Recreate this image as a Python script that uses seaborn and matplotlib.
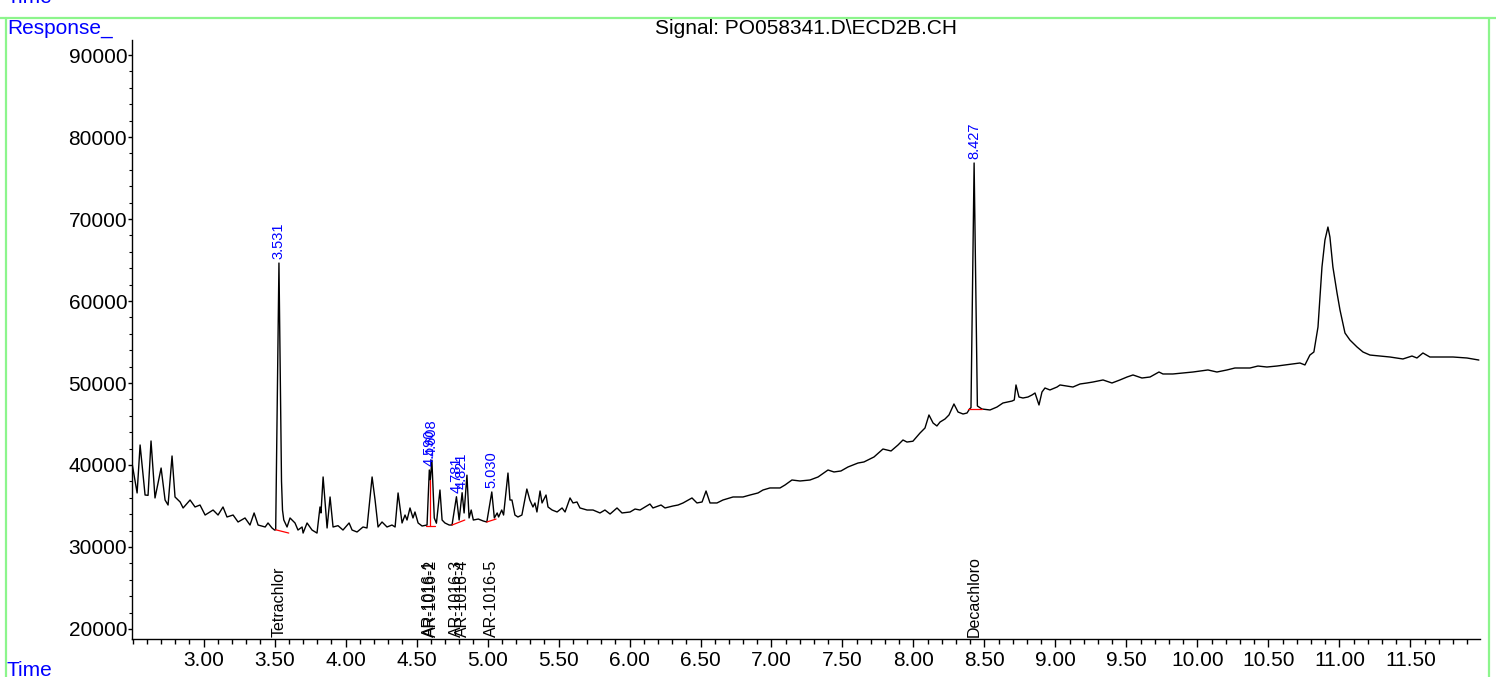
import numpy as np
import pandas as pd
import matplotlib
matplotlib.use("Agg")
import matplotlib.pyplot as plt
import seaborn as sns
from matplotlib.ticker import MultipleLocator, FuncFormatter
from matplotlib.lines import Line2D
import matplotlib.transforms as mtransforms

# %% Data
retention_time = [
    2.496, 2.532, 2.553, 2.588, 2.609, 2.630, 2.658, 2.701, 2.729, 2.750,
    2.778, 2.799, 2.835, 2.856, 2.905, 2.940, 2.975, 3.011, 3.067, 3.102,
    3.137, 3.165, 3.208, 3.243, 3.292, 3.327, 3.356, 3.384, 3.434, 3.454,
    3.482, 3.500, 3.508, 3.531, 3.549, 3.556, 3.565, 3.588, 3.609, 3.644,
    3.665, 3.694, 3.701, 3.729, 3.764, 3.799, 3.820, 3.827, 3.842, 3.870,
    3.891, 3.912, 3.947, 3.982, 4.025, 4.046, 4.081, 4.123, 4.151, 4.187,
    4.208, 4.229, 4.257, 4.292, 4.327, 4.349, 4.370, 4.398, 4.419, 4.433,
    4.454, 4.475, 4.489, 4.511, 4.539, 4.574, 4.590, 4.597, 4.608, 4.625,
    4.640, 4.665, 4.680, 4.700, 4.730, 4.750, 4.781, 4.800, 4.821, 4.835,
    4.855, 4.870, 4.885, 4.900, 4.935, 4.970, 4.995, 5.030, 5.048, 5.068,
    5.078, 5.100, 5.113, 5.144, 5.158, 5.172, 5.193, 5.214, 5.242, 5.277,
    5.298, 5.320, 5.334, 5.348, 5.370, 5.384, 5.412, 5.426, 5.455, 5.490,
    5.525, 5.546, 5.581, 5.602, 5.630, 5.651, 5.701, 5.743, 5.792, 5.827,
    5.863, 5.912, 5.947, 6.004, 6.039, 6.074, 6.144, 6.165, 6.222, 6.250,
    6.306, 6.342, 6.377, 6.440, 6.475, 6.511, 6.539, 6.567, 6.616, 6.658,
    6.729, 6.799, 6.849, 6.905, 6.940, 6.989, 7.060, 7.095, 7.144, 7.201,
    7.271, 7.328, 7.398, 7.440, 7.489, 7.539, 7.609, 7.651, 7.722, 7.785,
    7.842, 7.891, 7.926, 7.954, 7.996, 8.046, 8.081, 8.109, 8.138, 8.165,
    8.187, 8.222, 8.250, 8.285, 8.314, 8.349, 8.377, 8.395, 8.405, 8.427,
    8.450, 8.482, 8.539, 8.588, 8.630, 8.694, 8.710, 8.722, 8.743, 8.771,
    8.806, 8.835, 8.856, 8.884, 8.905, 8.926, 8.961, 9.011, 9.032, 9.081,
    9.123, 9.173, 9.222, 9.264, 9.335, 9.398, 9.454, 9.504, 9.546, 9.609,
    9.666, 9.729, 9.757, 9.827, 9.898, 9.968, 10.018, 10.074, 10.137, 10.208,
    10.264, 10.320, 10.370, 10.426, 10.489, 10.560, 10.616, 10.673, 10.722, 10.757,
    10.792, 10.820, 10.849, 10.877, 10.898, 10.919, 10.933, 10.954, 10.983, 11.004,
    11.039, 11.074, 11.124, 11.166, 11.215, 11.286, 11.356, 11.447, 11.511, 11.546,
    11.588, 11.637, 11.729, 11.800, 11.898, 11.982,
]
response = [
    40240, 36590, 42440, 36340, 36300, 42930, 35980, 39630, 35730, 35120,
    41100, 36100, 35490, 34760, 35730, 34880, 35120, 33900, 34510, 33900,
    34880, 33660, 33900, 33050, 33540, 32680, 34150, 32680, 32440, 32930,
    32320, 32070, 32100, 64630, 38000, 34500, 33300, 32440, 33540, 32930,
    32070, 32440, 31700, 32930, 32070, 31700, 34880, 34150, 38540, 32320,
    36100, 32440, 32600, 32070, 32930, 32070, 31830, 32440, 32320, 38540,
    35730, 32440, 33050, 32440, 32680, 32440, 36590, 32930, 33900, 33290,
    34760, 33540, 34270, 32930, 32560, 32680, 39390, 38170, 40600, 33540,
    32900, 36950, 33290, 32930, 32680, 32680, 36130, 33290, 36620, 34150,
    38760, 33540, 34510, 33290, 33410, 33170, 33050, 36710, 33540, 34150,
    33660, 34510, 33900, 39020, 35730, 35730, 33900, 33660, 33900, 37070,
    35730, 34880, 35370, 34270, 36830, 35370, 36340, 34880, 34510, 34270,
    34760, 34270, 35980, 35370, 35490, 34760, 34510, 34510, 34150, 34510,
    34020, 34760, 34150, 34270, 34630, 34510, 35240, 34760, 35120, 34760,
    35000, 35120, 35370, 35980, 35370, 35490, 36830, 35370, 35370, 35730,
    36100, 36100, 36340, 36590, 36950, 37200, 37200, 37560, 38170, 38050,
    38170, 38540, 39390, 39150, 39270, 39760, 40240, 40370, 40980, 41950,
    41710, 42440, 43050, 42800, 42900, 43900, 44510, 46100, 45120, 44760,
    45240, 45610, 46100, 47440, 46460, 46220, 46340, 46830, 47000, 76830,
    47200, 46830, 46710, 47070, 47560, 47800, 47930, 49760, 48290, 48170,
    48290, 48540, 48780, 47320, 48900, 49390, 49150, 49510, 49760, 49630,
    49510, 49880, 50000, 50120, 50370, 50000, 50370, 50730, 50980, 50610,
    50730, 51340, 51100, 51100, 51220, 51340, 51460, 51590, 51340, 51590,
    51830, 51830, 51830, 52070, 51950, 52070, 52200, 52320, 52440, 52200,
    53410, 53780, 56830, 64150, 67440, 69020, 67800, 64150, 60980, 58900,
    56100, 55240, 54390, 53780, 53410, 53290, 53170, 52930, 53290, 53050,
    53660, 53170, 53170, 53170, 53050, 52800,
]

# labelled peaks
peak_rt = [3.531, 4.590, 4.608, 4.781, 4.821, 5.030, 8.427]
peak_apex = [64630, 39390, 40600, 36130, 36620, 36710, 76830]
peak_label = ["3.531", "4.590", "4.608", "4.781", "4.821", "5.030", "8.427"]
compound = ["Tetrachlor", "AR-1016-1", "AR-1016-2", "AR-1016-3",
            "AR-1016-4", "AR-1016-5", "Decachloro"]

# integration baselines (start rt, start resp, end rt, end resp)
base_t0 = [3.508, 4.568, 4.597, 4.750, 4.995, 8.384]
base_v0 = [32100, 32560, 32560, 32680, 33050, 46830]
base_t1 = [3.600, 4.631, 4.597, 4.840, 5.060, 8.482]
base_v1 = [31700, 32560, 38170, 33290, 33410, 46830]

x_ticks = [3.0, 3.5, 4.0, 4.5, 5.0, 5.5, 6.0, 6.5, 7.0, 7.5, 8.0, 8.5,
           9.0, 9.5, 10.0, 10.5, 11.0, 11.5]
y_ticks = [20000, 30000, 40000, 50000, 60000, 70000, 80000, 90000]

df = pd.DataFrame({"Time": retention_time, "Response": response})

# %% Plot
sns.set_style("ticks")
plt.rcParams['font.family'] = ['Liberation Sans', 'DejaVu Sans']

fig = plt.figure(figsize=(14.96, 6.77), dpi=100)
ax = fig.add_axes([132 / 1496, 1 - 639 / 677, (1480 - 132) / 1496, (639 - 40) / 677])

sns.lineplot(data=df, x="Time", y="Response", ax=ax, color="black",
             linewidth=1.0, estimator=None, sort=False, legend=False)

for t0, v0, t1, v1 in zip(base_t0, base_v0, base_t1, base_v1):
    ax.plot([t0, t1], [v0, v1], color="red", linewidth=0.9)

#-- retention time labels above the peaks
for rt, apex, lab in zip(peak_rt, peak_apex, peak_label):
    ax.annotate(lab, xy=(rt, apex), xytext=(0, 3), textcoords="offset points",
                rotation=90, ha="center", va="bottom", color="blue", fontsize=10.5)

#-- compound names along the bottom
trans = mtransforms.blended_transform_factory(ax.transData, ax.transAxes)
for rt, name in zip(peak_rt, compound):
    ax.text(rt, 0.003, name, transform=trans, rotation=90, ha="center",
            va="bottom", color="black", fontsize=11.5)

ax.set_xlim(2.496, 11.99)
ax.set_ylim(18780, 91830)
ax.set_xticks(x_ticks)
ax.set_yticks(y_ticks)
ax.xaxis.set_minor_locator(MultipleLocator(0.1))
ax.yaxis.set_minor_locator(MultipleLocator(2000))
ax.xaxis.set_major_formatter(FuncFormatter(lambda v, _: f"{v:.2f}"))
ax.yaxis.set_major_formatter(FuncFormatter(lambda v, _: f"{v:.0f}"))
ax.set_xlabel("")
ax.set_ylabel("")

ax.tick_params(axis="x", which="major", length=5.8, width=1, pad=3, labelsize=15, colors="black")
ax.tick_params(axis="x", which="minor", length=3.5, width=1, colors="black")
ax.tick_params(axis="y", which="major", length=3, width=1, pad=0.5, labelsize=15, colors="black")
ax.tick_params(axis="y", which="minor", length=2, width=0.8, colors="black")

sns.despine(ax=ax)
for side in ["left", "bottom"]:
    ax.spines[side].set_color("black")
    ax.spines[side].set_linewidth(1)

#-- title and frame texts
fig.text(806 / 1496, 1 - 28 / 677, r"Signal: PO058341.D\ECD2B.CH", ha="center",
         va="center", fontsize=15, color="black")
fig.text(7 / 1496, 1 - 19 / 677, "Response_", ha="left", va="top", fontsize=15, color="blue")
fig.text(7 / 1496, 1 / 677, "Time", ha="left", va="baseline", fontsize=15, color="blue")
fig.text(7 / 1496, 1 - 3 / 677, "Time", ha="left", va="baseline", fontsize=15, color="blue")

#-- green panel frame
green = "#8cf58c"
fig.add_artist(Line2D([6 / 1496, 6 / 1496], [0, 1 - 18 / 677], color=green, lw=1.6, transform=fig.transFigure))
fig.add_artist(Line2D([1489 / 1496, 1489 / 1496], [0, 1 - 18 / 677], color=green, lw=1.6, transform=fig.transFigure))
fig.add_artist(Line2D([0, 1], [1 - 18 / 677, 1 - 18 / 677], color=green, lw=1.6, transform=fig.transFigure))

fig.savefig("out.png", dpi=100)
plt.close(fig)
